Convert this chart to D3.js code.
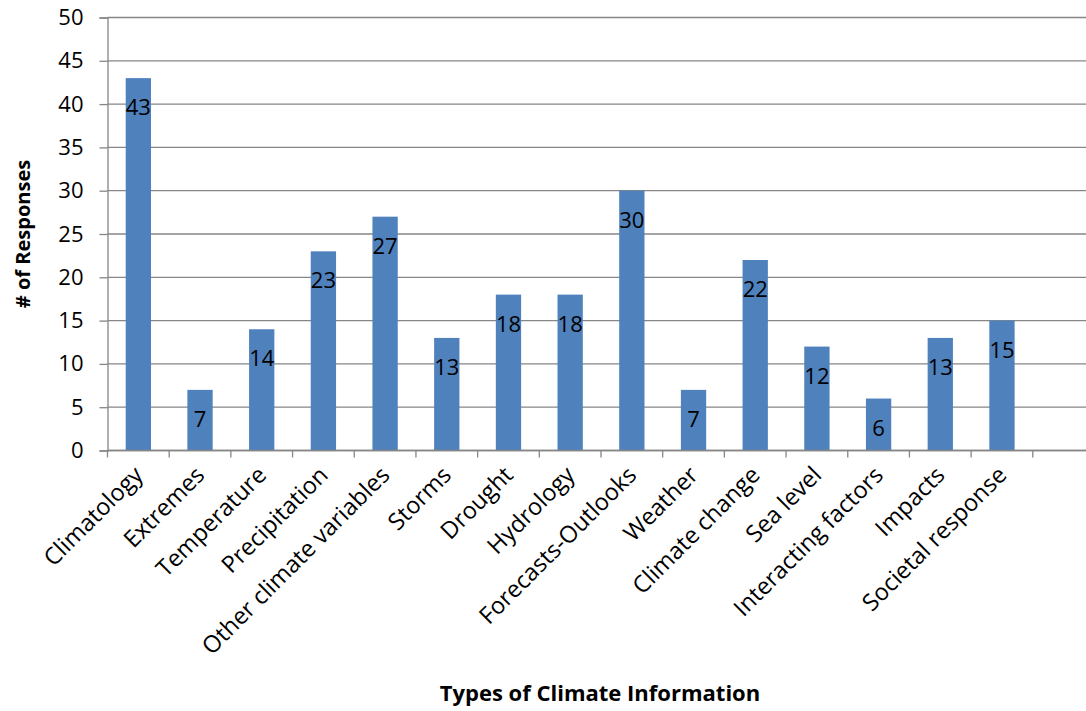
<!DOCTYPE html>
<html>
<head>
<meta charset="utf-8">
<script src="https://cdn.jsdelivr.net/npm/d3@7"></script>
<style>
  html, body { margin: 0; padding: 0; background: #fff; }
  svg { display: block; font-family: "Open Sans", "Noto Sans", sans-serif; }
</style>
</head>
<body>
<svg id="chart" width="1086" height="711"></svg>
<script>
// Survey responses by type of climate information
const categories = [
  "Climatology", "Extremes", "Temperature", "Precipitation",
  "Other climate variables", "Storms", "Drought", "Hydrology",
  "Forecasts-Outlooks", "Weather", "Climate change", "Sea level",
  "Interacting factors", "Impacts", "Societal response", ""
];
const responses = [43, 7, 14, 23, 27, 13, 18, 18, 30, 7, 22, 12, 6, 13, 15, null];
const yTicks = [0, 5, 10, 15, 20, 25, 30, 35, 40, 45, 50];
const yTitle = "# of Responses";
const xTitle = "Types of Climate Information";

const svg = d3.select("#chart");
const plot = { left: 107.5, right: 1094.5, top: 17.5, bottom: 450.5 };
const gridColor = "#868686";
const barColor = "#4F81BD";

const x = d3.scaleBand()
  .domain(categories.map((c, i) => i))
  .range([plot.left, plot.right])
  .paddingInner(0.59)
  .paddingOuter(0.295);

const slot = d3.scaleBand()
  .domain(categories.map((c, i) => i))
  .range([plot.left, plot.right]);

const y = d3.scaleLinear().domain([0, 50]).range([plot.bottom, plot.top]);

// left axis: tick marks and labels
const yAxis = svg.append("g")
  .attr("transform", `translate(${plot.left},0)`)
  .call(d3.axisLeft(y).tickValues(yTicks).tickSize(8).tickPadding(16));
yAxis.select(".domain").attr("stroke", gridColor).attr("stroke-width", 1.3);
yAxis.selectAll(".tick line").attr("stroke", gridColor).attr("stroke-width", 1.3);
yAxis.selectAll(".tick text")
  .attr("font-size", 22).attr("fill", "#000")
  .attr("font-family", "'Open Sans', sans-serif");

// horizontal gridlines
svg.append("g").selectAll("line")
  .data(yTicks)
  .join("line")
  .attr("x1", plot.left).attr("x2", plot.right)
  .attr("y1", d => y(d)).attr("y2", d => y(d))
  .attr("stroke", gridColor).attr("stroke-width", 1.3);

// bars
const rows = responses.map((v, i) => ({ v, i })).filter(d => d.v !== null);
svg.append("g").selectAll("rect")
  .data(rows)
  .join("rect")
  .attr("x", d => x(d.i))
  .attr("width", x.bandwidth())
  .attr("y", d => y(d.v))
  .attr("height", d => y(0) - y(d.v))
  .attr("fill", barColor);

// value labels
svg.append("g").selectAll("text")
  .data(rows)
  .join("text")
  .attr("x", d => x(d.i) + x.bandwidth() / 2)
  .attr("y", d => y(d.v) + 37)
  .attr("text-anchor", "middle")
  .attr("font-size", 22)
  .attr("fill", "#000")
  .text(d => d.v);

// category axis with boundary ticks
const xAxis = svg.append("g");
xAxis.append("line")
  .attr("x1", plot.left).attr("x2", plot.right)
  .attr("y1", plot.bottom).attr("y2", plot.bottom)
  .attr("stroke", gridColor).attr("stroke-width", 1.3);
const edges = categories.map((c, i) => slot(i)).concat([plot.right]);
xAxis.selectAll("line.tick")
  .data(edges)
  .join("line")
  .attr("class", "tick")
  .attr("x1", d => d).attr("x2", d => d)
  .attr("y1", plot.bottom).attr("y2", plot.bottom + 7)
  .attr("stroke", gridColor).attr("stroke-width", 1.3);

xAxis.selectAll("text")
  .data(categories.map((c, i) => ({ c, i })).filter(d => d.c))
  .join("text")
  .attr("transform", d => `translate(${slot(d.i) + slot.bandwidth() / 2 + 6},${plot.bottom + 26}) rotate(-45)`)
  .attr("text-anchor", "end")
  .attr("font-size", 23.5)
  .attr("fill", "#000")
  .text(d => d.c);

// axis titles
svg.append("text")
  .attr("transform", `translate(30,${(plot.top + plot.bottom) / 2}) rotate(-90)`)
  .attr("text-anchor", "middle")
  .attr("font-size", 20)
  .attr("font-weight", "bold")
  .attr("fill", "#000")
  .text(yTitle);

svg.append("text")
  .attr("x", 600)
  .attr("y", 701)
  .attr("text-anchor", "middle")
  .attr("font-size", 22)
  .attr("font-weight", "bold")
  .attr("fill", "#000")
  .text(xTitle);
</script>
</body>
</html>
